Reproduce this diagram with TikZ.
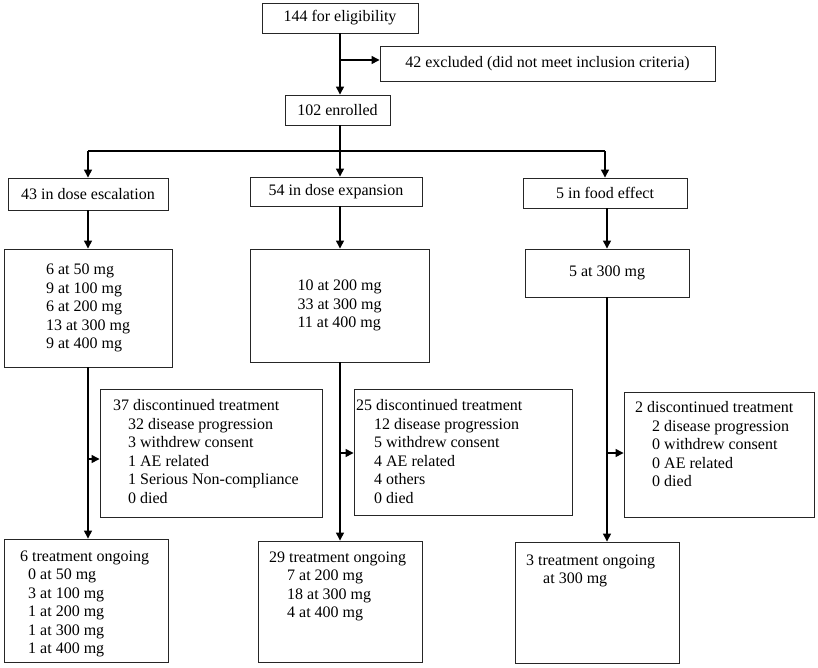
\documentclass[tikz,border=0pt]{standalone}
\usepackage{fontspec}
\setmainfont{Liberation Serif}
\usetikzlibrary{arrows.meta}
\begin{document}
\begin{tikzpicture}[x=1pt,y=-1pt,
  box/.style={draw=black!85, line width=0.9pt, inner sep=0pt, align=left, font=\fontsize{16}{18.5}\selectfont},
  txt/.style={inner sep=0pt, align=left, anchor=north west, font=\fontsize{16}{18.5}\selectfont},
  conn/.style={line width=1.3pt, -{Triangle[length=8pt,width=8pt]}},
  plain/.style={line width=1.3pt}]
\useasboundingbox (0,0) rectangle (818,667);
% boxes
\node[box, minimum width=156pt, minimum height=30pt] (elig) at (340,18) {144 for eligibility};
\node[box, minimum width=335pt, minimum height=35pt] (excl) at (547.5,63.5) {42 excluded (did not meet inclusion criteria)};
\node[box, minimum width=105pt, minimum height=30pt] (enrol) at (337.5,110) {102 enrolled};
\node[box, minimum width=160pt, minimum height=32pt] (esc) at (88,194) {43 in dose escalation};
\node[box, minimum width=172pt, minimum height=29pt] (exp) at (336,191.5) {54 in dose expansion};
\node[box, minimum width=164pt, minimum height=30pt] (food) at (605,193) {5 in food effect};
\node[box, minimum width=168pt, minimum height=118pt] (escd) at (88,308) {6 at 50 mg\\9 at 100 mg\\6 at 200 mg\\13 at 300 mg\\9 at 400 mg};
\node[box, minimum width=179pt, minimum height=113pt] (expd) at (339.5,305.5) {10 at 200 mg\\33 at 300 mg\\11 at 400 mg};
\node[box, minimum width=164pt, minimum height=48pt] (foodd) at (607,273) {5 at 300 mg};
\node[box, minimum width=222pt, minimum height=128pt] (escdisc) at (211,453) {};
\node[box, minimum width=218pt, minimum height=126pt] (expdisc) at (463,452) {};
\node[box, minimum width=190pt, minimum height=125pt] (fooddisc) at (719,454.5) {};
\node[box, minimum width=164pt, minimum height=123pt] (escon) at (86,600.5) {};
\node[box, minimum width=164pt, minimum height=121pt] (expon) at (340,601.5) {};
\node[box, minimum width=164pt, minimum height=121pt] (foodon) at (597,602.5) {};
% texts in top-aligned boxes
\node[txt] (t1) at (113,399.5) {37 discontinued treatment\\\hspace*{15pt}32 disease progression\\\hspace*{15pt}3 withdrew consent\\\hspace*{15pt}1 AE related\\\hspace*{15pt}1 Serious Non-compliance\\\hspace*{15pt}0 died};
\node[txt] (t2) at (356,399.5) {25 discontinued treatment\\\hspace*{18pt}12 disease progression\\\hspace*{18pt}5 withdrew consent\\\hspace*{18pt}4 AE related\\\hspace*{18pt}4 others\\\hspace*{18pt}0 died};
\node[txt] (t3) at (635,401.5) {2 discontinued treatment\\\hspace*{17pt}2 disease progression\\\hspace*{17pt}0 withdrew consent\\\hspace*{17pt}0 AE related\\\hspace*{17pt}0 died};
\node[txt] (t4) at (20,550.5) {6 treatment ongoing\\\hspace*{8pt}0 at 50 mg\\\hspace*{8pt}3 at 100 mg\\\hspace*{8pt}1 at 200 mg\\\hspace*{8pt}1 at 300 mg\\\hspace*{8pt}1 at 400 mg};
\node[txt] (t5) at (269,551.5) {29 treatment ongoing\\\hspace*{18pt}7 at 200 mg\\\hspace*{18pt}18 at 300 mg\\\hspace*{18pt}4 at 400 mg};
\node[txt] (t6) at (526,554.5) {3 treatment ongoing\\\hspace*{17pt}at 300 mg};
% connectors
\coordinate (ex) at (340,60);
\coordinate (j) at (340,151);
\coordinate (s1) at (88,459);
\coordinate (s2) at (340,453);
\coordinate (s3) at (607,453);
\draw[conn] (elig.south) -- (elig.south |- enrol.north);
\draw[conn] (ex) -- (excl.west |- ex);
\draw[plain] (j |- enrol.south) -- (j);
\draw[plain] (esc.north |- j) -- (food.north |- j);
\draw[conn] (esc.north |- j) -- (esc.north);
\draw[conn] (j) -- (j |- exp.north);
\draw[conn] (food.north |- j) -- (food.north);
\draw[conn] (esc.south) -- (escd.north);
\draw[conn] (j |- exp.south) -- (j |- expd.north);
\draw[conn] (food.south -| foodd.north) -- (foodd.north);
\draw[conn] (escd.south) -- (escd.south |- escon.north);
\draw[conn] (j |- expd.south) -- (j |- expon.north);
\draw[conn] (foodd.south) -- (foodd.south |- foodon.north);
\draw[conn] (s1) -- (escdisc.west |- s1);
\draw[conn] (s2) -- (expdisc.west |- s2);
\draw[conn] (s3) -- (fooddisc.west |- s3);
\end{tikzpicture}
\end{document}
